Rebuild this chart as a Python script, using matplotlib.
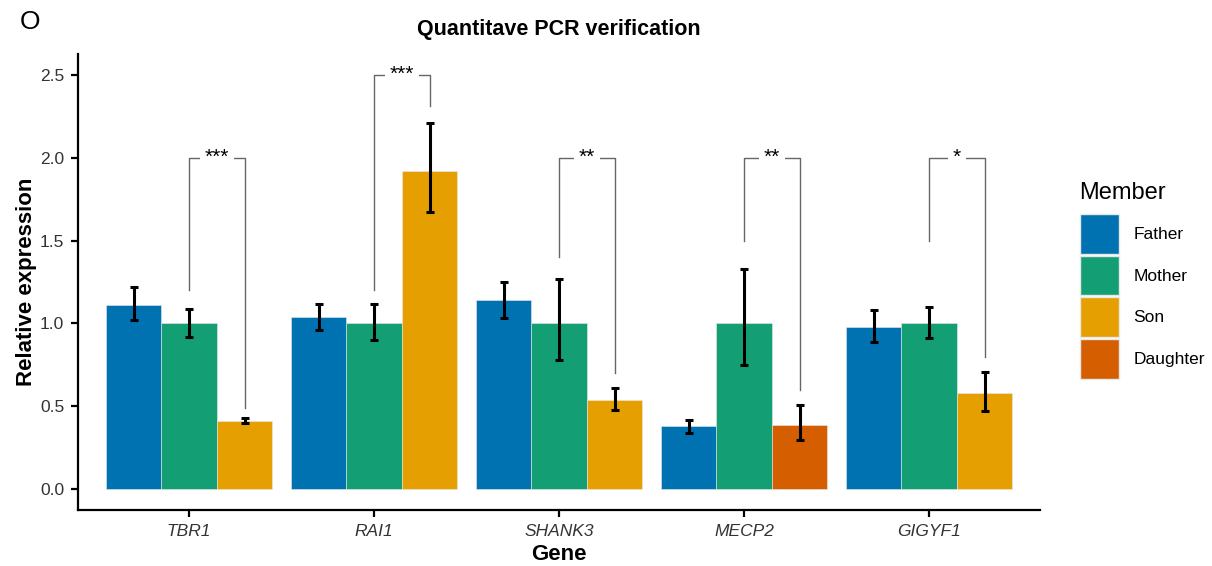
import numpy as np
import matplotlib
matplotlib.use("Agg")
import matplotlib.pyplot as plt
import matplotlib.patches as mpatches

plt.rcParams['font.family'] = ['Liberation Sans', 'DejaVu Sans']

genes = ['TBR1', 'RAI1', 'SHANK3', 'MECP2', 'GIGYF1']
members = ['Father', 'Mother', 'Son', 'Daughter']
colors = {'Father': '#0072B2', 'Mother': '#139F73', 'Son': '#E69F00', 'Daughter': '#D55E00'}

# third bar in each group: Son, except MECP2 which is Daughter
third_member = ['Son', 'Son', 'Son', 'Daughter', 'Son']

father = [1.11, 1.04, 1.14, 0.38, 0.98]
father_lo = [1.02, 0.96, 1.03, 0.34, 0.89]
father_hi = [1.22, 1.12, 1.25, 0.42, 1.08]
mother = [1.00, 1.00, 1.00, 1.00, 1.00]
mother_lo = [0.92, 0.90, 0.78, 0.75, 0.91]
mother_hi = [1.09, 1.12, 1.27, 1.33, 1.10]
child = [0.41, 1.92, 0.54, 0.39, 0.58]
child_lo = [0.40, 1.67, 0.48, 0.30, 0.47]
child_hi = [0.43, 2.21, 0.61, 0.51, 0.71]

# significance brackets (Mother vs child)
sig_labels = ['***', '***', '**', '**', '*']
sig_top = [2.0, 2.5, 2.0, 2.0, 2.0]
sig_left = [1.2, 1.2, 1.4, 1.5, 1.5]
sig_right = [0.49, 2.31, 0.70, 0.60, 0.80]

fig = plt.figure(figsize=(12.12, 5.66), dpi=100)
ax = fig.add_axes([0.0644, 0.0989, 0.7937, 0.8057])

x = np.arange(1, len(genes) + 1)
w = 0.3
series = [(father, father_lo, father_hi, -w), (mother, mother_lo, mother_hi, 0.0),
          (child, child_lo, child_hi, w)]
for k, (vals, lo, hi, off) in enumerate(series):
    if k == 0:
        cols = [colors['Father']] * len(genes)
    elif k == 1:
        cols = [colors['Mother']] * len(genes)
    else:
        cols = [colors[m] for m in third_member]
    vals = np.array(vals)
    ax.bar(x + off, vals, width=w, color=cols, edgecolor='#e8e8e8', linewidth=0.4, zorder=2)
    yerr = [vals - np.array(lo), np.array(hi) - vals]
    ax.errorbar(x + off, vals, yerr=yerr, fmt='none', ecolor='black', elinewidth=2.2,
                capsize=2.6, capthick=2.2, zorder=3)

for i in range(len(genes)):
    xl, xr = x[i], x[i] + w
    ax.plot([xl, xl, xr, xr], [sig_left[i], sig_top[i], sig_top[i], sig_right[i]],
            color='#666666', lw=1, zorder=1)
    ax.text((xl + xr) / 2, sig_top[i], sig_labels[i], ha='center', va='center',
            fontsize=15, zorder=4,
            bbox=dict(facecolor='white', edgecolor='none', pad=3.5))

ax.set_xlim(0.4, 5.6)
ax.set_ylim(-0.125, 2.625)
ax.set_xticks(x)
ax.set_xticklabels(genes, fontstyle='italic', fontsize=12.5)
ax.set_yticks([0, 0.5, 1.0, 1.5, 2.0, 2.5])
ax.set_yticklabels(['0.0', '0.5', '1.0', '1.5', '2.0', '2.5'], fontsize=12.5)
for s in ['top', 'right']:
    ax.spines[s].set_visible(False)
for s in ['left', 'bottom']:
    ax.spines[s].set_linewidth(1.6)
ax.tick_params(direction='out', length=5, width=1.6, colors='black', labelcolor='#333333', pad=5)
ax.set_xlabel('Gene', fontsize=16, fontweight='bold', labelpad=4)
ax.set_ylabel('Relative expression', fontsize=16, fontweight='bold', labelpad=2)
ax.set_title('Quantitave PCR verification', fontsize=15.5, fontweight='bold', pad=14)

handles = [mpatches.Patch(facecolor=colors[m], edgecolor='#e8e8e8', label=m) for m in members]
leg = fig.legend(handles=handles, title='Member', loc='upper left',
                 bbox_to_anchor=(0.885, 0.69), frameon=False, fontsize=12.5,
                 title_fontsize=17, handlelength=2.3, handleheight=3.15,
                 labelspacing=0.1, handletextpad=0.8, borderaxespad=0)
leg._legend_box.align = 'left'
leg._legend_box.sep = 7

fig.text(0.016, 0.962, 'O', fontsize=19, ha='left', va='center')

fig.savefig('out.png', dpi=100)
